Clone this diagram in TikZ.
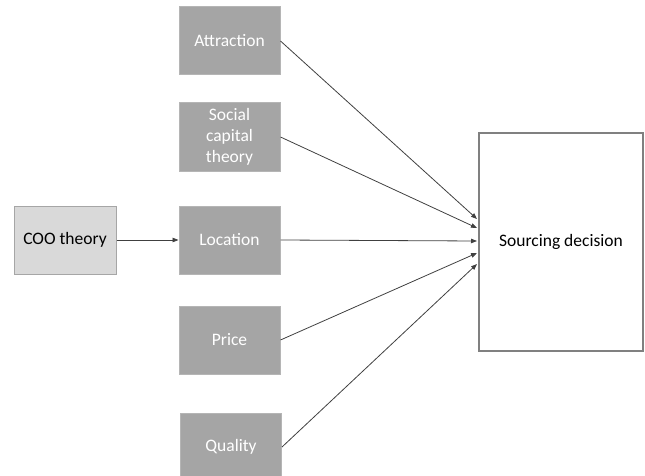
\documentclass[tikz,border=0pt]{standalone}
\usepackage{fontspec}
\setmainfont{Carlito}
\usetikzlibrary{arrows.meta}
\definecolor{darkbox}{HTML}{A5A5A5}
\definecolor{darkedge}{HTML}{B5B5B5}
\definecolor{lightbox}{HTML}{D9D9D9}
\definecolor{lightedge}{HTML}{A6A6A6}
\definecolor{targetedge}{HTML}{808080}
\definecolor{linec}{HTML}{404040}
\tikzset{
  lbl/.style={font=\fontsize{17.5}{21}\selectfont},
  factor/.style={lbl, draw=darkedge, fill=darkbox, line width=1pt, minimum width=101pt, minimum height=68pt, inner sep=2pt, text=white, align=center, text width=95pt},
  source/.style={lbl, draw=lightedge, fill=lightbox, line width=1pt, minimum width=102pt, minimum height=68pt, inner sep=2pt, text=black, align=center},
  target/.style={lbl, draw=targetedge, fill=white, line width=1.1pt, minimum width=164pt, minimum height=218pt, inner sep=2pt, align=center},
  conn/.style={draw=linec, line width=0.8pt, -{Triangle[length=6pt,width=4.5pt]}}
}
\begin{document}
\begin{tikzpicture}[x=1pt,y=-1pt]
\useasboundingbox (0,0) rectangle (645,476);
\clip (0,0) rectangle (645,476);
\node[source] (coo) at (65,240) {COO theory};
\node[factor] (attr) at (229.5,41) {Attraction};
\node[factor] (soc) at (229.5,137) {Social\\capital\\theory};
\node[factor] (loc) at (229.5,240) {Location};
\node[factor] (price) at (229.5,340) {Price};
\node[factor] (qual) at (231,447) {Quality};
\node[target] (sd) at (561,242) {Sourcing decision};
\coordinate (e1) at (477,219);
\coordinate (e2) at (477,228);
\coordinate (e3) at (477,241);
\coordinate (e4) at (477,253);
\coordinate (e5) at (477,264);
\draw[conn] (coo.east) -- (loc.west);
\draw[conn] (attr.east) -- (e1);
\draw[conn] (soc.east) -- (e2);
\draw[conn] (loc.east) -- (e3);
\draw[conn] (price.east) -- (e4);
\draw[conn] (qual.east) -- (e5);
\end{tikzpicture}
\end{document}
